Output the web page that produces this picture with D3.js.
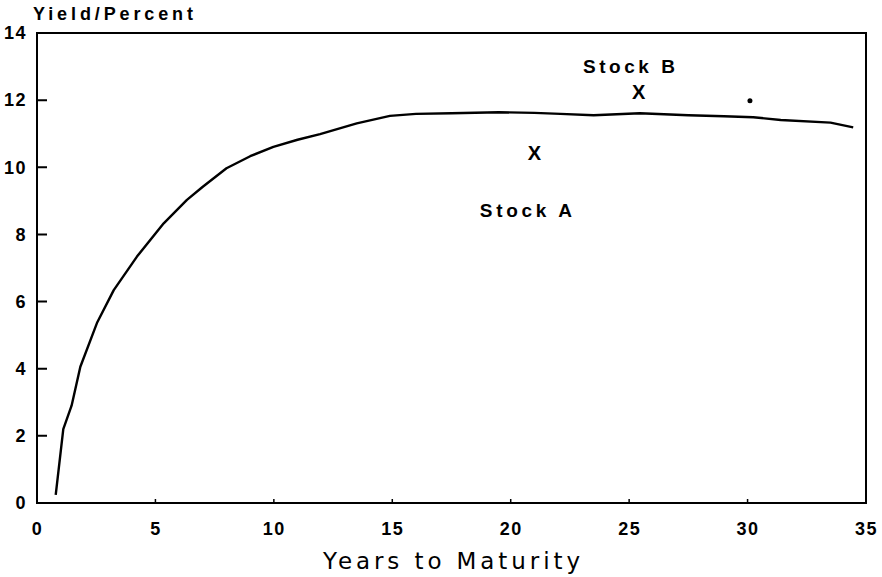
<!DOCTYPE html>
<html>
  <head>
    <meta charset="utf-8">
    <title>Yield curve</title>
    <script src="https://d3js.org/d3.v7.min.js"></script>
    <style>
      body { margin: 0; background: #fff; }
      svg { display: block; font-family: "Liberation Sans", Arial, sans-serif; }
      .tick-label { font-size: 18px; font-weight: bold; }
      .note { font-size: 19px; font-weight: bold; }
    </style>
  </head>
  <body>
    <svg id="chart" width="882" height="577"></svg>
    <script>
      // data
      years = [0.79, 1.11, 1.46, 1.83, 2.53, 3.24, 4.22, 5.35, 6.33, 7.0, 8.0, 9.0, 9.98, 11.0, 11.95, 13.5, 14.9, 16.0, 17.5, 19.5, 21.0, 22.1, 23.5, 25.45, 27.5, 29.0, 30.24, 31.4, 33.5, 34.46];
      yields = [0.24, 2.2, 2.9, 4.06, 5.36, 6.34, 7.34, 8.33, 9.03, 9.42, 9.97, 10.33, 10.61, 10.82, 10.99, 11.31, 11.53, 11.59, 11.61, 11.64, 11.62, 11.59, 11.55, 11.61, 11.55, 11.52, 11.49, 11.41, 11.33, 11.19];
      stockNames = ["Stock A", "Stock B"];
      stockYears = [21.0, 25.4];
      stockYields = [10.43, 12.25];
      stockLabelYears = [20.64, 24.99];
      stockLabelYields = [8.52, 12.81];
      dotYear = [30.1];
      dotYield = [11.98];
      xTicks = [0, 5, 10, 15, 20, 25, 30, 35];
      yTicks = [0, 2, 4, 6, 8, 10, 12, 14];

      chart = d3.select("#chart");
      margin = { top: 33, right: 16, bottom: 74, left: 37 };
      width = 882;
      height = 577;

      xScale = d3.scaleLinear()
        .domain([0, 35])
        .range([margin.left, width - margin.right]);
      yScale = d3.scaleLinear()
        .domain([0, 14])
        .range([height - margin.bottom, margin.top]);

      // frame
      chart.append("rect")
        .attr("x", xScale(0))
        .attr("y", yScale(14))
        .attr("width", xScale(35) - xScale(0))
        .attr("height", yScale(0) - yScale(14))
        .attr("fill", "none")
        .attr("stroke", "#000")
        .attr("stroke-width", 2);

      // tick marks, pointing inward, drawn as one path each
      yTickPath = d3.path();
      yTicks.slice(1, -1).forEach(function(d) {
        yTickPath.moveTo(xScale(0), yScale(d));
        yTickPath.lineTo(xScale(0) + 10, yScale(d));
      });
      chart.append("path")
        .attr("d", yTickPath.toString())
        .attr("fill", "none")
        .attr("stroke", "#000")
        .attr("stroke-width", 2);
      xTickPath = d3.path();
      xTicks.slice(1, -1).forEach(function(d) {
        xTickPath.moveTo(xScale(d), yScale(0));
        xTickPath.lineTo(xScale(d), yScale(0) - 4);
      });
      chart.append("path")
        .attr("d", xTickPath.toString())
        .attr("fill", "none")
        .attr("stroke", "#000")
        .attr("stroke-width", 1.5);

      // axis labels
      xAxis = d3.axisBottom(xScale)
        .tickValues(xTicks)
        .tickSize(0)
        .tickPadding(20);
      yAxis = d3.axisLeft(yScale)
        .tickValues(yTicks)
        .tickSize(0)
        .tickPadding(10);

      xAxisGroup = chart.append("g")
        .attr("transform", "translate(0," + yScale(0) + ")")
        .call(xAxis);
      yAxisGroup = chart.append("g")
        .attr("transform", "translate(" + xScale(0) + ",0)")
        .call(yAxis);

      [xAxisGroup, yAxisGroup].forEach(function(g) {
        g.select(".domain").remove();
        g.selectAll(".tick line").remove();
        g.selectAll("text")
          .classed("tick-label", true)
          .attr("fill", "#000")
          .style("font-family", "'Liberation Sans', Arial, sans-serif")
          .style("letter-spacing", "1.5px");
      });
      xAxisGroup.selectAll("text")
        .attr("y", 19);

      // yield curve
      line = d3.line()
        .x(function(d) { return xScale(d[0]); })
        .y(function(d) { return yScale(d[1]); });
      chart.append("path")
        .datum(d3.zip(years, yields))
        .attr("d", line)
        .attr("fill", "none")
        .attr("stroke", "#000")
        .attr("stroke-width", 2.4)
        .attr("stroke-linejoin", "round");

      // stocks
      chart.selectAll(".stock")
        .data(d3.range(stockNames.length))
        .enter().append("text")
        .attr("class", "note")
        .attr("x", function(i) { return xScale(stockYears[i]); })
        .attr("y", function(i) { return yScale(stockYields[i]); })
        .attr("dy", "0.36em")
        .attr("text-anchor", "middle")
        .style("font-size", "20px")
        .text("X");
      chart.selectAll(".stockLabel")
        .data(d3.range(stockNames.length))
        .enter().append("text")
        .attr("class", "note")
        .attr("x", function(i) { return xScale(stockLabelYears[i]) - 46; })
        .attr("y", function(i) { return yScale(stockLabelYields[i]); })
        .attr("textLength", 92)
        .attr("lengthAdjust", "spacing")
        .text(function(i) { return stockNames[i]; });

      chart.selectAll(".dot")
        .data(dotYear)
        .enter().append("circle")
        .attr("cx", function(d) { return xScale(d); })
        .attr("cy", function(d, i) { return yScale(dotYield[i]); })
        .attr("r", 2.5)
        .attr("fill", "#000");

      // titles
      chart.append("text")
        .attr("x", 33)
        .attr("y", 20)
        .attr("textLength", 160)
        .attr("lengthAdjust", "spacing")
        .style("font-size", "18px")
        .style("font-weight", "bold")
        .text("Yield/Percent");
      chart.append("text")
        .attr("x", 323)
        .attr("y", 569)
        .attr("textLength", 257)
        .attr("lengthAdjust", "spacing")
        .style("font-family", "'DejaVu Sans', sans-serif")
        .style("font-size", "23px")
        .text("Years to Maturity");
    </script>
  </body>
</html>
